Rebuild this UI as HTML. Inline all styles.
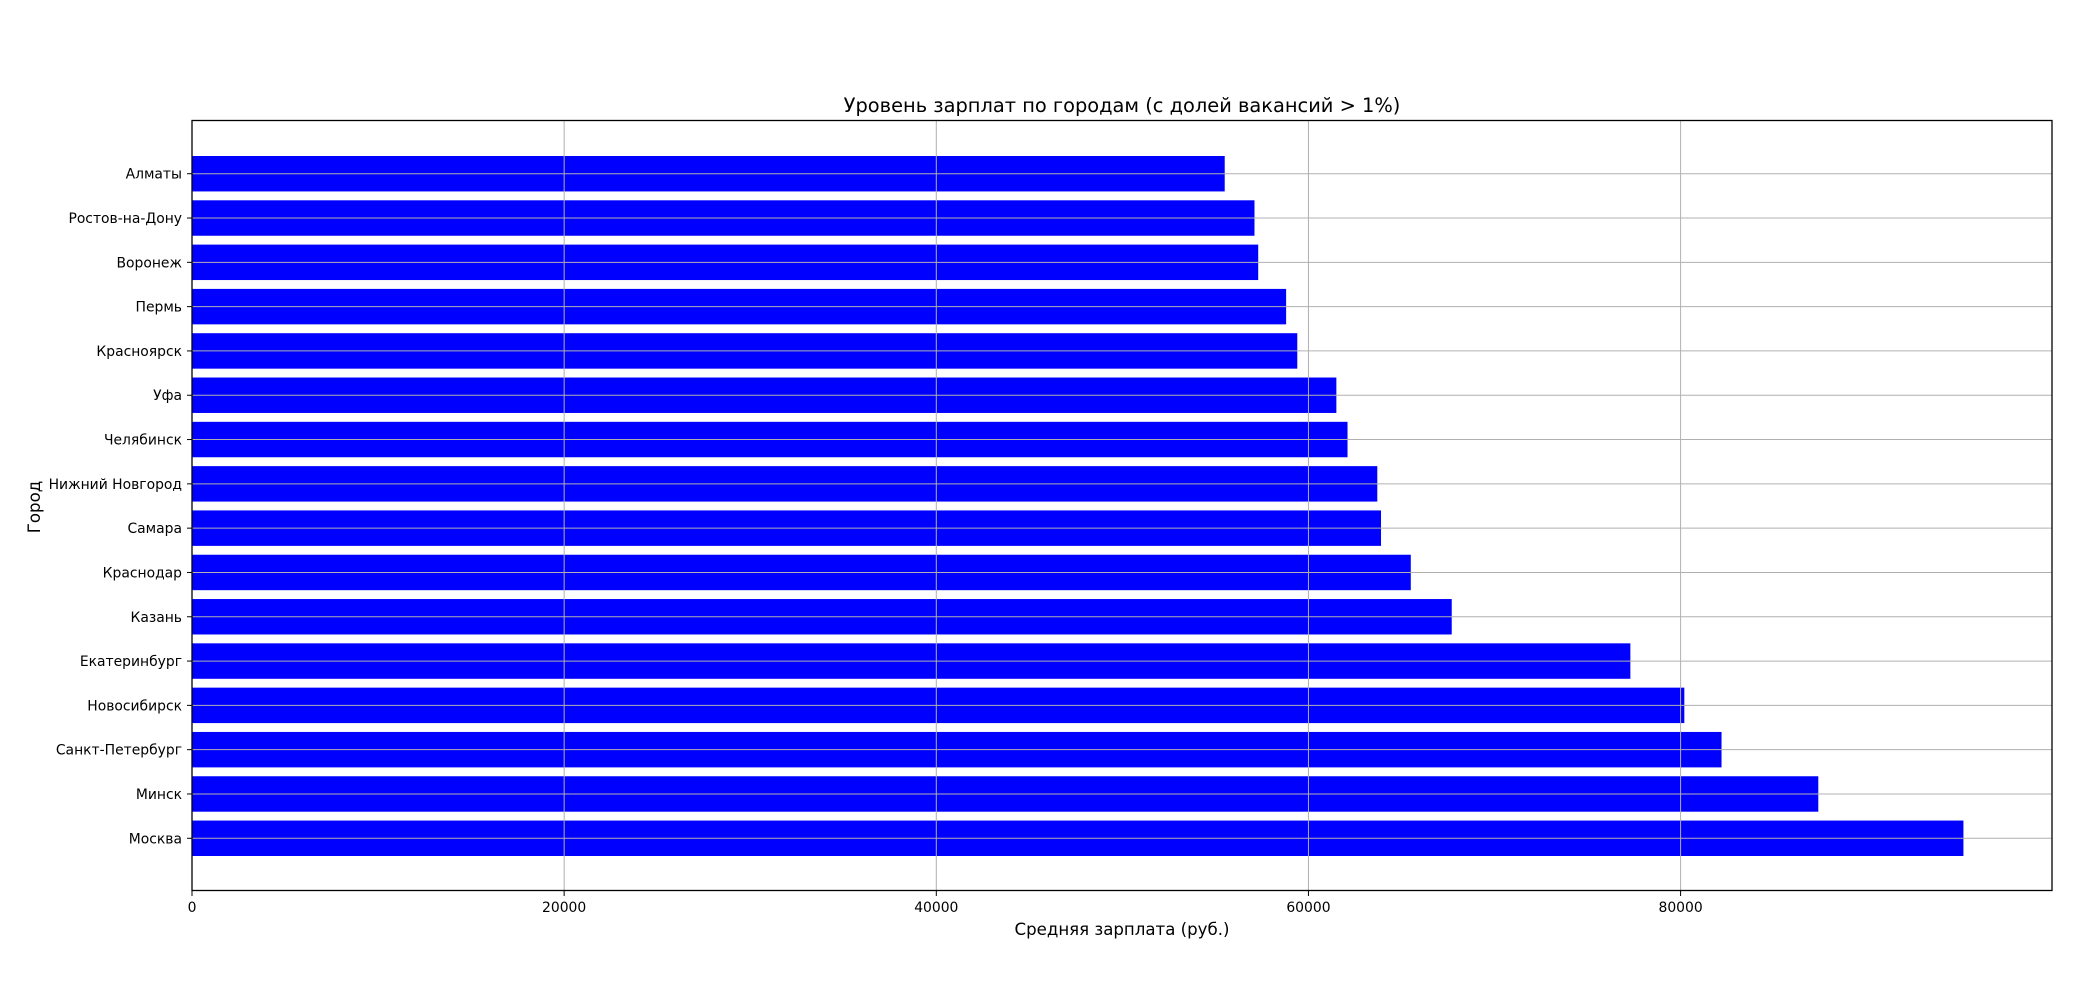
<!DOCTYPE html>
<html><head><meta charset="utf-8"><style>
body{margin:0;background:#fff;}
svg text{font-family:"DejaVu Sans","Liberation Sans",sans-serif;fill:#000;}
</style></head><body>
<svg id="chart" width="2089" height="1000" xmlns="http://www.w3.org/2000/svg">
<rect width="2089" height="1000" fill="#fff"/>
<text x="1122" y="112" font-size="19.4" text-anchor="middle">Уровень зарплат по городам (с долей вакансий &gt; 1%)</text>
<g id="bars"></g>
<g id="grid"></g>
<g id="ticks"></g>
<rect x="192" y="120.5" width="1860" height="770" fill="none" stroke="#000" stroke-width="1.3"/>
<text x="1122" y="935" font-size="16.6" text-anchor="middle">Средняя зарплата (руб.)</text>
<text x="0" y="0" font-size="16.6" text-anchor="middle" transform="translate(40,507) rotate(-90)">Город</text>
</svg>
<script>
const cities = ["Москва","Минск","Санкт-Петербург","Новосибирск","Екатеринбург","Казань","Краснодар","Самара","Нижний Новгород","Челябинск","Уфа","Красноярск","Пермь","Воронеж","Ростов-на-Дону","Алматы"];
const salaries = [95200,87400,82200,80200,77300,67700,65500,63900,63700,62100,61500,59400,58800,57300,57100,55500];
const xTicks = [0,20000,40000,60000,80000];
const xTickLabels = ["0","20000","40000","60000","80000"];

const L=192,R=2052,T=121,B=891;
const xmax = Math.max(...salaries)*1.05;
const x = v => L + v/xmax*(R-L);
const n = cities.length;
const ylo = -0.4 - 0.05*(n-1+0.8), yhi = n-1+0.4 + 0.05*(n-1+0.8);
const y = v => B - (v-ylo)/(yhi-ylo)*(B-T);
const NS="http://www.w3.org/2000/svg";
const mk=(t,a,p)=>{const e=document.createElementNS(NS,t);for(const k in a)e.setAttribute(k,a[k]);p.appendChild(e);return e;};
const bars=document.getElementById('bars'),grid=document.getElementById('grid'),ticks=document.getElementById('ticks');
cities.forEach((c,i)=>{
  const r=mk('rect',{x:L,y:y(i+0.4),width:x(salaries[i])-L,height:y(i-0.4)-y(i+0.4),fill:'#0000ff'},bars);
  
  
  const g=mk('line',{x1:L,x2:R,y1:y(i),y2:y(i),stroke:'#b0b0b0','stroke-width':1},grid);
  
  
  const tk=mk('line',{x1:L-5,x2:L,y1:y(i),y2:y(i),stroke:'#000','stroke-width':1},ticks);
  
  
  const t=mk('text',{x:L-10,y:y(i)+5,'font-size':13.9,'text-anchor':'end'},ticks);
  t.textContent=c;
  
  
});
xTicks.forEach((v,i)=>{
  const g=mk('line',{x1:x(v),x2:x(v),y1:T,y2:B,stroke:'#b0b0b0','stroke-width':1},grid);
  
  
  const tk=mk('line',{x1:x(v),x2:x(v),y1:B,y2:B+5,stroke:'#000','stroke-width':1},ticks);
  
  
  const t=mk('text',{x:x(v),y:B+21,'font-size':13.9,'text-anchor':'middle'},ticks);
  t.textContent=xTickLabels[i];
  
  
});
</script>
</body></html>
